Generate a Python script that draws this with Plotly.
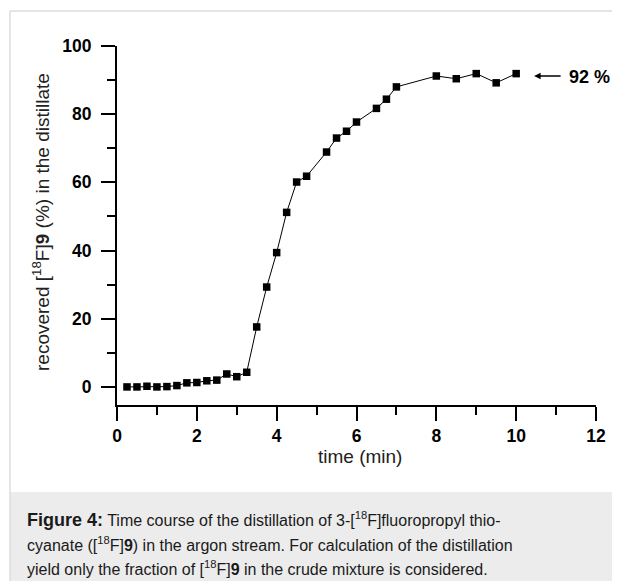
import plotly.graph_objects as go

# Data
time_min = [0.25, 0.5, 0.75, 1.0, 1.25, 1.5, 1.75, 2.0, 2.25, 2.5, 2.75, 3.0,
            3.25, 3.5, 3.75, 4.0, 4.25, 4.5, 4.75, 5.25, 5.5, 5.75, 6.0, 6.5,
            6.75, 7.0, 8.0, 8.5, 9.0, 9.5, 10.0]
recovered = [0.0, 0.0, 0.2, 0.0, 0.1, 0.4, 1.2, 1.3, 1.8, 2.0, 3.8, 3.0,
             4.3, 17.6, 29.3, 39.4, 51.2, 60.1, 61.8, 68.9, 73.0, 75.0, 77.7, 81.7,
             84.4, 88.0, 91.2, 90.4, 91.9, 89.2, 91.9]
x_ticks = [0, 2, 4, 6, 8, 10, 12]
y_ticks = [0, 20, 40, 60, 80, 100]

FONT = "Liberation Sans, Arial, sans-serif"
OFF = 8  # page body margin
W, H = 620 - OFF, 581 - OFF
L, R, T, B = 117 - OFF, 24, 46 - OFF, 176
PW, PH = W - L - R, H - T - B


# convert screen pixel positions (as measured on the picture) to paper coords
def px_x(p):
    return (p - OFF - L) / PW


def px_y(p):
    return (H - B - (p - OFF)) / PH


fig = go.Figure()

fig.add_trace(go.Scatter(
    x=time_min, y=recovered,
    mode="lines+markers",
    line=dict(color="black", width=1),
    marker=dict(symbol="square", size=7.5, color="black"),
    showlegend=False,
    cliponaxis=False,
))

axis_common = dict(
    showline=True, linecolor="black", linewidth=2,
    ticks="outside", ticklen=14, tickwidth=2, tickcolor="black",
    showgrid=False, zeroline=False,
    tickfont=dict(family=FONT, size=17.5, color="black", weight="bold"),
)

fig.update_xaxes(
    range=[0, 12], tickvals=x_ticks, ticklabelstandoff=0,
    minor=dict(ticks="outside", ticklen=8, tickwidth=2, tickcolor="black", dtick=1),
    **axis_common,
)
fig.update_yaxes(
    range=[-5.3, 100], tickvals=y_ticks, ticklabelstandoff=6,
    minor=dict(ticks="outside", ticklen=8, tickwidth=2, tickcolor="black", dtick=10, tick0=0),
    **axis_common,
)

annotations = [
    # y title
    dict(x=px_x(41), y=px_y(222), xref="paper", yref="paper",
         xanchor="center", yanchor="middle",
         text="recovered [<sup>18</sup>F]<b>9</b> (%) in the distillate",
         textangle=-90, showarrow=False,
         font=dict(family=FONT, size=19, color="#222")),
    # x title
    dict(x=px_x(360), y=px_y(456), xref="paper", yref="paper",
         xanchor="center", yanchor="middle",
         text="time (min)", showarrow=False,
         font=dict(family=FONT, size=19, color="#222")),
    # arrow pointing at the plateau
    dict(x=10.45, y=91.2, xref="x", yref="y", ax=28, ay=0,
         text="", showarrow=True,
         arrowhead=2, arrowsize=1, arrowwidth=1.3, arrowcolor="black"),
    # 92 % label
    dict(x=px_x(567), y=px_y(77), xref="paper", yref="paper",
         xanchor="left", yanchor="middle",
         text="<b>92 %</b>", showarrow=False,
         font=dict(family=FONT, size=18, color="black")),
]

caption_lines = [
    "<b><span style='font-size:18px'>Figure 4:</span></b> Time course of the distillation of 3-[<sup>18</sup>F]fluoropropyl thio-",
    "cyanate ([<sup>18</sup>F]<b>9</b>) in the argon stream. For calculation of the distillation",
    "yield only the fraction of [<sup>18</sup>F]<b>9</b> in the crude mixture is considered.",
]
caption_y = [519, 544, 568]
for line, yy in zip(caption_lines, caption_y):
    annotations.append(dict(
        x=px_x(25), y=px_y(yy), xref="paper", yref="paper",
        xanchor="left", yanchor="middle", align="left",
        text=line, showarrow=False,
        font=dict(family=FONT, size=16, color="#1a1a1a"),
    ))

shapes = [
    # caption box
    dict(type="rect", xref="paper", yref="paper",
         x0=px_x(10), x1=px_x(621), y0=px_y(492), y1=px_y(582),
         fillcolor="#ececec", line=dict(width=0), layer="below"),
    # frame lines (left + top)
    dict(type="line", xref="paper", yref="paper",
         x0=px_x(10), x1=px_x(10), y0=px_y(11), y1=px_y(582),
         line=dict(color="#dddddd", width=1.5)),
    dict(type="line", xref="paper", yref="paper",
         x0=px_x(10), x1=px_x(621), y0=px_y(11), y1=px_y(11),
         line=dict(color="#dddddd", width=1.5)),
]

fig.update_layout(
    width=W, height=H,
    margin=dict(l=L, r=R, t=T, b=B),
    paper_bgcolor="white", plot_bgcolor="white",
    font=dict(family=FONT, color="black"),
    annotations=annotations,
    shapes=shapes,
)

fig.write_html("out.html")
